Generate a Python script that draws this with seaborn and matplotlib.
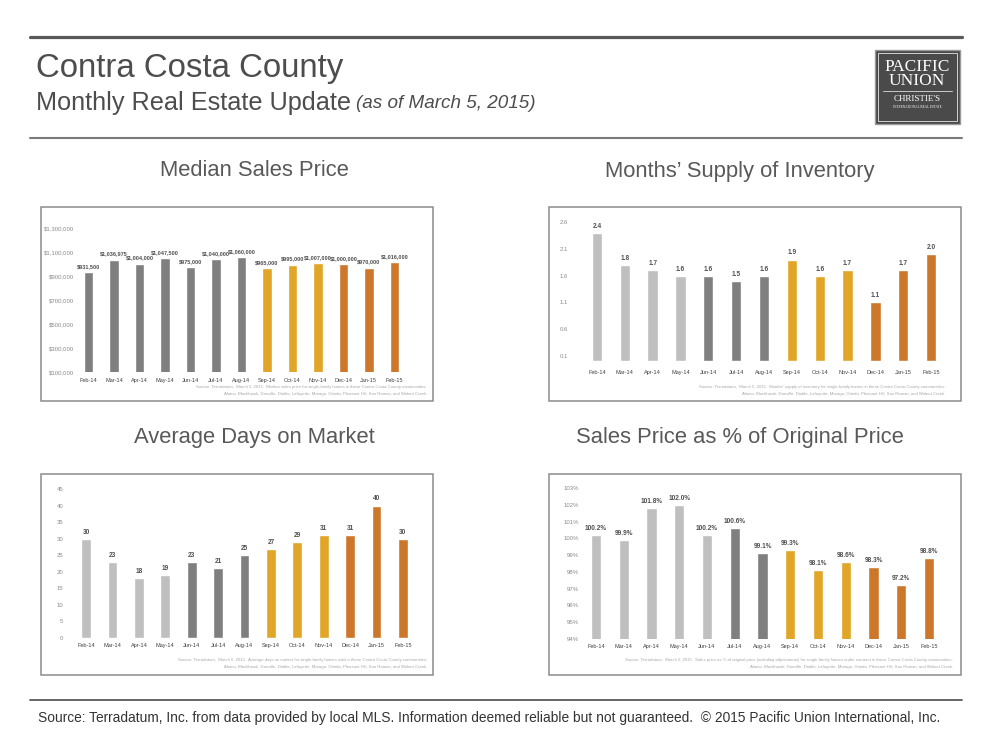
import matplotlib
matplotlib.use("Agg")
import matplotlib.pyplot as plt
import seaborn as sns
from matplotlib.patches import Rectangle
from matplotlib.lines import Line2D

sns.set_style("white")
plt.rcParams['font.family'] = ['Liberation Sans', 'DejaVu Sans']

# data
months = ['Feb-14', 'Mar-14', 'Apr-14', 'May-14', 'Jun-14', 'Jul-14', 'Aug-14',
          'Sep-14', 'Oct-14', 'Nov-14', 'Dec-14', 'Jan-15', 'Feb-15']
median_price = [931500, 1036975, 1004000, 1047500, 975000, 1040000, 1060000,
                965000, 995000, 1007000, 1000000, 970000, 1016000]
months_supply = [2.4, 1.8, 1.7, 1.6, 1.6, 1.5, 1.6, 1.9, 1.6, 1.7, 1.1, 1.7, 2.0]
days_on_market = [30, 23, 18, 19, 23, 21, 25, 27, 29, 31, 31, 40, 30]
pct_of_original = [100.2, 99.9, 101.8, 102.0, 100.2, 100.6, 99.1,
                   99.3, 98.1, 98.6, 98.3, 97.2, 98.8]

LG, DG, GOLD, ORG = '#bfbfbf', '#7f7f7f', '#e1a627', '#cd772b'
price_colors = [DG] * 7 + [GOLD] * 3 + [ORG] * 3
supply_colors = [LG] * 4 + [DG] * 3 + [GOLD] * 3 + [ORG] * 3
days_colors = [LG] * 4 + [DG] * 3 + [GOLD] * 3 + [ORG] * 3
pct_colors = [LG] * 5 + [DG] * 2 + [GOLD] * 3 + [ORG] * 3

communities = ("Alamo, Blackhawk, Danville, Diablo, Lafayette, Moraga, Orinda, "
               "Pleasant Hill, San Ramon, and Walnut Creek.")

fig = plt.figure(figsize=(10, 7.5), dpi=100)


def fxy(x, y):
    return x / 1000, 1 - y / 750


def rect(l, t, r, b):
    return [l / 1000, 1 - b / 750, (r - l) / 1000, (b - t) / 750]


def hline(x0, x1, y, lw, color):
    fig.add_artist(Line2D([x0 / 1000, x1 / 1000], [1 - y / 750, 1 - y / 750],
                          transform=fig.transFigure, lw=lw, color=color))


def panel(box, axrect, title, title_x, vals, colors, ylim, yticks, ytl, fmt, ypad,
          xpad, lab_size, source):
    l, t, r, b = box
    fig.add_artist(Rectangle(fxy(l, b), (r - l) / 1000, (b - t) / 750,
                             transform=fig.transFigure, fill=False,
                             ec='#8c8c8c', lw=1.1))
    fig.text(*fxy(title_x, t - 36), title, ha='center', va='center',
             fontsize=15.8, color='#595959')
    ax = fig.add_axes(rect(*axrect))
    sns.barplot(x=months, y=vals, hue=months, palette=dict(zip(months, colors)),
                legend=False, width=0.37, saturation=1, ax=ax)
    ax.set_ylim(*ylim)
    ax.set_yticks(yticks)
    ax.set_yticklabels(ytl)
    ax.set_xlabel('')
    ax.set_ylabel('')
    ax.set_facecolor('none')
    sns.despine(ax=ax, left=True, bottom=True)
    ax.tick_params(axis='y', length=0, pad=ypad, labelsize=4.3, labelcolor='#8a8a8a')
    ax.tick_params(axis='x', length=0, pad=xpad, labelsize=4.0, labelcolor='#404040')
    for i, v in enumerate(vals):
        ax.annotate(fmt(v), (i, v), xytext=(0, 2.2), textcoords='offset points',
                    ha='center', va='bottom', fontsize=lab_size,
                    color='#505050', fontweight='bold')
    y1 = b - 14 if b < 500 else b - 15
    fig.text(*fxy(source[1], y1), source[0], ha='right', va='center',
             fontsize=3.1, color='#a8a8a8')
    fig.text(*fxy(source[1], y1 + 7), communities, ha='right', va='center',
             fontsize=3.1, color='#a8a8a8')
    return ax


# header
hline(30, 962, 37, 2.3, '#595959')
hline(30, 962, 138, 1.5, '#7a7a7a')
fig.text(*fxy(36, 68), 'Contra Costa County', fontsize=23.8, color='#4d4d4d',
         va='center', ha='left')
fig.text(*fxy(36, 103), 'Monthly Real Estate Update', fontsize=18.2, color='#4d4d4d',
         va='center', ha='left')
fig.text(*fxy(356, 104), '(as of March 5, 2015)', fontsize=13.6, color='#4d4d4d',
         va='center', ha='left', style='italic')

# logo
fig.add_artist(Rectangle(fxy(875, 124), 85 / 1000, 74 / 750,
                         transform=fig.transFigure, fc='#4a4a4a', ec='#9a9a9a', lw=1))
fig.add_artist(Rectangle(fxy(878, 121), 79 / 1000, 68 / 750,
                         transform=fig.transFigure, fill=False, ec='#e6e6e6', lw=0.6))
serif = ['Liberation Serif', 'DejaVu Serif']
fig.text(*fxy(917, 67), 'PACIFIC', fontsize=12.5, color='white', ha='center',
         va='center', family=serif)
fig.text(*fxy(917, 81), 'UNION', fontsize=12.5, color='white', ha='center',
         va='center', family=serif)
hline(883, 952, 91, 0.6, '#dddddd')
fig.text(*fxy(917, 99), "CHRISTIE'S", fontsize=6.5, color='white', ha='center',
         va='center', family=serif)
fig.text(*fxy(917, 107), 'INTERNATIONAL REAL ESTATE', fontsize=2.4, color='white',
         ha='center', va='center', family=serif)

# panels
panel((41, 207, 433, 401), (76, 228, 407, 372), 'Median Sales Price', 254,
      median_price, price_colors, (100000, 1300000),
      list(range(100000, 1300001, 200000)),
      ['${:,.0f}'.format(v) for v in range(100000, 1300001, 200000)],
      lambda v: '${:,.0f}'.format(v), 1.5, 4, 4.0,
      ('Source: Terradatum,  March 5, 2015.  Median sales price for single-family homes '
       'in these Contra Costa County communities:', 427))

sup_ticks = [0.1, 0.6, 1.1, 1.6, 2.1, 2.6]
panel((549, 207, 961, 401), (583, 222, 945, 361.4), "Months\u2019 Supply of Inventory", 740,
      months_supply, supply_colors, (0, 2.6), sup_ticks,
      ['{:.1f}'.format(v) for v in sup_ticks],
      lambda v: '{:.1f}'.format(v), 11, 6, 4.7,
      ('Source: Terradatum,  March 5, 2015.  Months\u2019 supply of inventory for single-family '
       'homes in these Contra Costa County communities:', 945))

day_ticks = list(range(0, 46, 5))
panel((41, 474, 433, 675), (73, 489, 416, 638), 'Average Days on Market', 254,
      days_on_market, days_colors, (0, 45), day_ticks,
      [str(v) for v in day_ticks],
      lambda v: str(v), 7, 3.5, 4.7,
      ('Source: Terradatum,  March 6, 2015.  Average days on market for single-family homes '
       'sold in these Contra Costa County communities:', 427))

pct_ticks = list(range(94, 104))
panel((549, 474, 961, 675), (582, 488, 943, 639), 'Sales Price as % of Original Price', 740,
      pct_of_original, pct_colors, (94, 103), pct_ticks,
      ['{}%'.format(v) for v in pct_ticks],
      lambda v: '{:.1f}%'.format(v), 2, 3.5, 4.7,
      ('Source: Terradatum,  March 5, 2015.  Sales price as % of original price (including '
       'adjustments) for single-family homes under contract in these Contra Costa County '
       'communities:', 953))

# footer
hline(30, 962, 700, 1.3, '#595959')
fig.text(*fxy(38, 718), 'Source: Terradatum, Inc. from data provided by local MLS. '
         'Information deemed reliable but not guaranteed.  \u00a9 2015 Pacific Union '
         'International, Inc.', fontsize=9.9, color='#333333', ha='left', va='center')

fig.savefig('out.png', dpi=100)
